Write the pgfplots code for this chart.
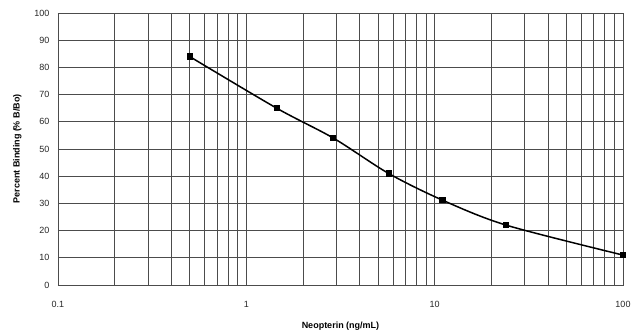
\documentclass[border=0pt]{standalone}
\usepackage{fontspec}
\setmainfont{Liberation Sans}
\usepackage{pgfplots}
\pgfplotsset{compat=1.18}
\usetikzlibrary{calc}
\begin{document}
\begin{tikzpicture}
\begin{axis}[
  name=ax,
  scale only axis,
  width=565pt, height=272pt,
  xmode=log,
  xmin=0.1, xmax=100,
  ymin=0, ymax=100,
  ytick={0,10,...,100},
  xtick={0.1,1,10,100},
  xticklabels={0.1,1,10,100},
  log ticks with fixed point,
  grid=both,
  major grid style={gray!60!black, line width=0.9pt},
  minor grid style={gray!60!black, line width=0.7pt},
  axis line style={gray!60!black, line width=0.9pt},
  tick style={draw=none},
  /pgf/number format/assume math mode=true,
  ticklabel style={font=\fontsize{9}{10}\selectfont, text=gray!30!black},
  yticklabel style={xshift=-5pt},
  xticklabel style={yshift=-13pt},
  xlabel={\textbf{Neopterin (ng/mL)}},
  ylabel={\textbf{Percent Binding (\% B/Bo)}},
  label style={font=\fontsize{9}{10}\selectfont},
  xlabel style={yshift=-7pt},
  ylabel style={yshift=6pt},
]
\addplot[black, line width=1.5pt, smooth, mark=square*, mark size=2.3pt]
  coordinates {(0.5,84) (1.45,65) (2.9,54) (5.7,41) (11,31.2) (24,22) (100,11)};
\end{axis}
\pgfresetboundingbox
\path ($(ax.south west)+(-58pt,-50pt)$) rectangle ($(ax.north east)+(9pt,13pt)$);
\end{tikzpicture}
\end{document}
